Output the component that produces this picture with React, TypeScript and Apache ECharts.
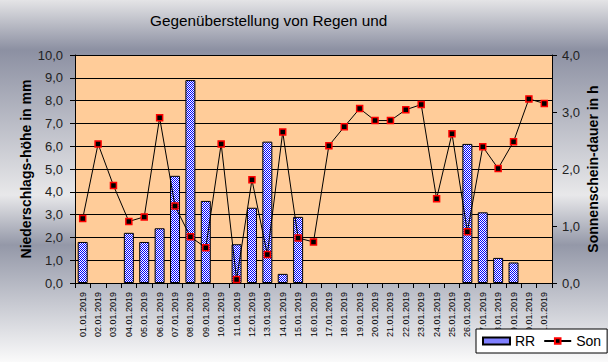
import React, { useEffect, useRef } from 'react';
import * as echarts from 'echarts';

const categories = [
  '01.01.2019', '02.01.2019', '03.01.2019', '04.01.2019', '05.01.2019', '06.01.2019', '07.01.2019',
  '08.01.2019', '09.01.2019', '10.01.2019', '11.01.2019', '12.01.2019', '13.01.2019', '14.01.2019',
  '15.01.2019', '16.01.2019', '17.01.2019', '18.01.2019', '19.01.2019', '20.01.2019', '21.01.2019',
  '22.01.2019', '23.01.2019', '24.01.2019', '25.01.2019', '26.01.2019', '27.01.2019', '28.01.2019',
  '29.01.2019', '30.01.2019', '31.01.2019',
];

const rainMm = [
  1.8, 0, 0, 2.2, 1.8, 2.4, 4.7, 8.9, 3.6, 0, 1.7, 3.3, 6.2, 0.4, 2.9, 0,
  0, 0, 0, 0, 0, 0, 0, 0, 0,
  6.1, 3.1, 1.1, 0.9, 0, 0,
];

const sunHours = [
  1.13, 2.44, 1.71, 1.08, 1.16, 2.9, 1.35, 0.81, 0.62, 2.44, 0.06, 1.81, 0.5, 2.65, 0.79, 0.72,
  2.41, 2.74, 3.06, 2.85, 2.85, 3.04, 3.13, 1.48, 2.62,
  0.9, 2.39, 2.01, 2.48, 3.23, 3.15,
];

const leftTicks = { min: 0, max: 10, interval: 1 };
const rightTicks = { min: 0, max: 4, interval: 1 };

const titleText = 'Gegenüberstellung von Regen und';
const leftName = 'Niederschlags-höhe in mm';
const rightName = 'Sonnenschein-dauer in h';

const bgCss =
  'linear-gradient(to bottom, #e4e4e6 0px, #8c90a2 50px, #e8e8ea 195px, #9498a8 245px, #fafafa 362px)';

function makeChecker(): string {
  const c = document.createElement('canvas');
  c.width = 2;
  c.height = 2;
  const ctx = c.getContext('2d')!;
  ctx.fillStyle = '#ffffff';
  ctx.fillRect(0, 0, 2, 2);
  ctx.fillStyle = '#0000ff';
  ctx.fillRect(0, 0, 1, 1);
  ctx.fillRect(1, 1, 1, 1);
  return c.toDataURL();
}

const fmt = (v: number) => v.toFixed(1).replace('.', ',');
const sans = "'Liberation Sans', Arial, sans-serif";

export default function App() {
  const ref = useRef<HTMLDivElement>(null);
  useEffect(() => {
    if (!ref.current) return;
    document.documentElement.style.background = '#fafafa';
    document.body.style.margin = '0';
    document.body.style.background = bgCss;
    document.body.style.backgroundRepeat = 'no-repeat';
    const chart = echarts.init(ref.current, null, { renderer: 'svg' });
    const pattern: any = { image: makeChecker(), repeat: 'repeat', imageWidth: 2, imageHeight: 2 };
    chart.setOption({
      animation: false,
      backgroundColor: {
        type: 'linear',
        x: 0,
        y: 0,
        x2: 0,
        y2: 1,
        colorStops: [
          { offset: 0, color: '#e4e4e6' },
          { offset: 0.138, color: '#8c90a2' },
          { offset: 0.539, color: '#e8e8ea' },
          { offset: 0.677, color: '#9498a8' },
          { offset: 1, color: '#fafafa' },
        ],
      },
      title: {
        text: titleText,
        left: 145,
        top: 8,
        textStyle: { fontFamily: sans, fontSize: 15.3, fontWeight: 'normal', color: '#000' },
      },
      grid: {
        left: 75,
        right: 55,
        top: 55,
        bottom: 79,
        show: true,
        backgroundColor: '#FFCC99',
        borderWidth: 0,
      },
      legend: {
        left: 476,
        top: 329,
        padding: [5, 6, 5, 6],
        backgroundColor: '#ffffff',
        borderColor: '#000000',
        borderWidth: 1,
        borderRadius: 0,
        itemWidth: 27,
        itemHeight: 7,
        itemGap: 8,
        textStyle: { fontFamily: sans, fontSize: 14, color: '#000' },
        data: [{ name: 'RR', icon: 'rect' }, { name: 'Son' }],
      },
      xAxis: {
        type: 'category',
        data: categories,
        boundaryGap: true,
        axisLine: { lineStyle: { color: '#000', width: 1 } },
        axisTick: { show: true, length: 5, alignWithLabel: false, interval: 0, lineStyle: { color: '#000' } },
        axisLabel: {
          interval: 0,
          rotate: 90,
          margin: 9,
          fontFamily: sans,
          fontSize: 9,
          color: '#000',
        },
        splitLine: { show: false },
      },
      yAxis: [
        {
          type: 'value',
          position: 'left',
          min: leftTicks.min,
          max: leftTicks.max,
          interval: leftTicks.interval,
          name: leftName,
          nameLocation: 'middle',
          nameGap: 42,
          nameMoveOverlap: false,
          nameTextStyle: { fontFamily: sans, fontSize: 14, fontWeight: 'bold', color: '#000' },
          axisLine: { show: true, lineStyle: { color: '#000', width: 1 } },
          axisTick: { show: true, length: 5, lineStyle: { color: '#000' } },
          axisLabel: { formatter: fmt, margin: 12, fontFamily: sans, fontSize: 13, color: '#222' },
          splitLine: { show: true, lineStyle: { color: '#000', width: 1 } },
        },
        {
          type: 'value',
          position: 'right',
          min: rightTicks.min,
          max: rightTicks.max,
          interval: rightTicks.interval,
          name: rightName,
          nameLocation: 'middle',
          nameGap: 34,
          nameMoveOverlap: false,
          nameTextStyle: { fontFamily: sans, fontSize: 14, fontWeight: 'bold', color: '#000' },
          axisLine: { show: true, lineStyle: { color: '#000', width: 1 } },
          axisTick: { show: true, length: 5, lineStyle: { color: '#000' } },
          axisLabel: { formatter: fmt, margin: 10, fontFamily: sans, fontSize: 13, color: '#222' },
          splitLine: { show: false },
        },
      ],
      series: [
        {
          name: 'RR',
          type: 'bar',
          yAxisIndex: 0,
          data: rainMm.map((v) => (v === 0 ? '-' : v)),
          barWidth: 10,
          itemStyle: { color: pattern, borderColor: '#000', borderWidth: 1 },
        },
        {
          name: 'Son',
          type: 'line',
          yAxisIndex: 1,
          data: sunHours,
          symbol: 'rect',
          symbolSize: 6,
          lineStyle: { color: '#000', width: 1 },
          itemStyle: { color: '#000', borderColor: '#ff0000', borderWidth: 1.5 },
        },
      ],
    });
    return () => chart.dispose();
  }, []);
  return (
    <div style={{ position: 'absolute', left: 0, top: 0, width: 608, height: 362, background: bgCss }}>
      <div ref={ref} style={{ width: 608, height: 362 }} />
    </div>
  );
}
